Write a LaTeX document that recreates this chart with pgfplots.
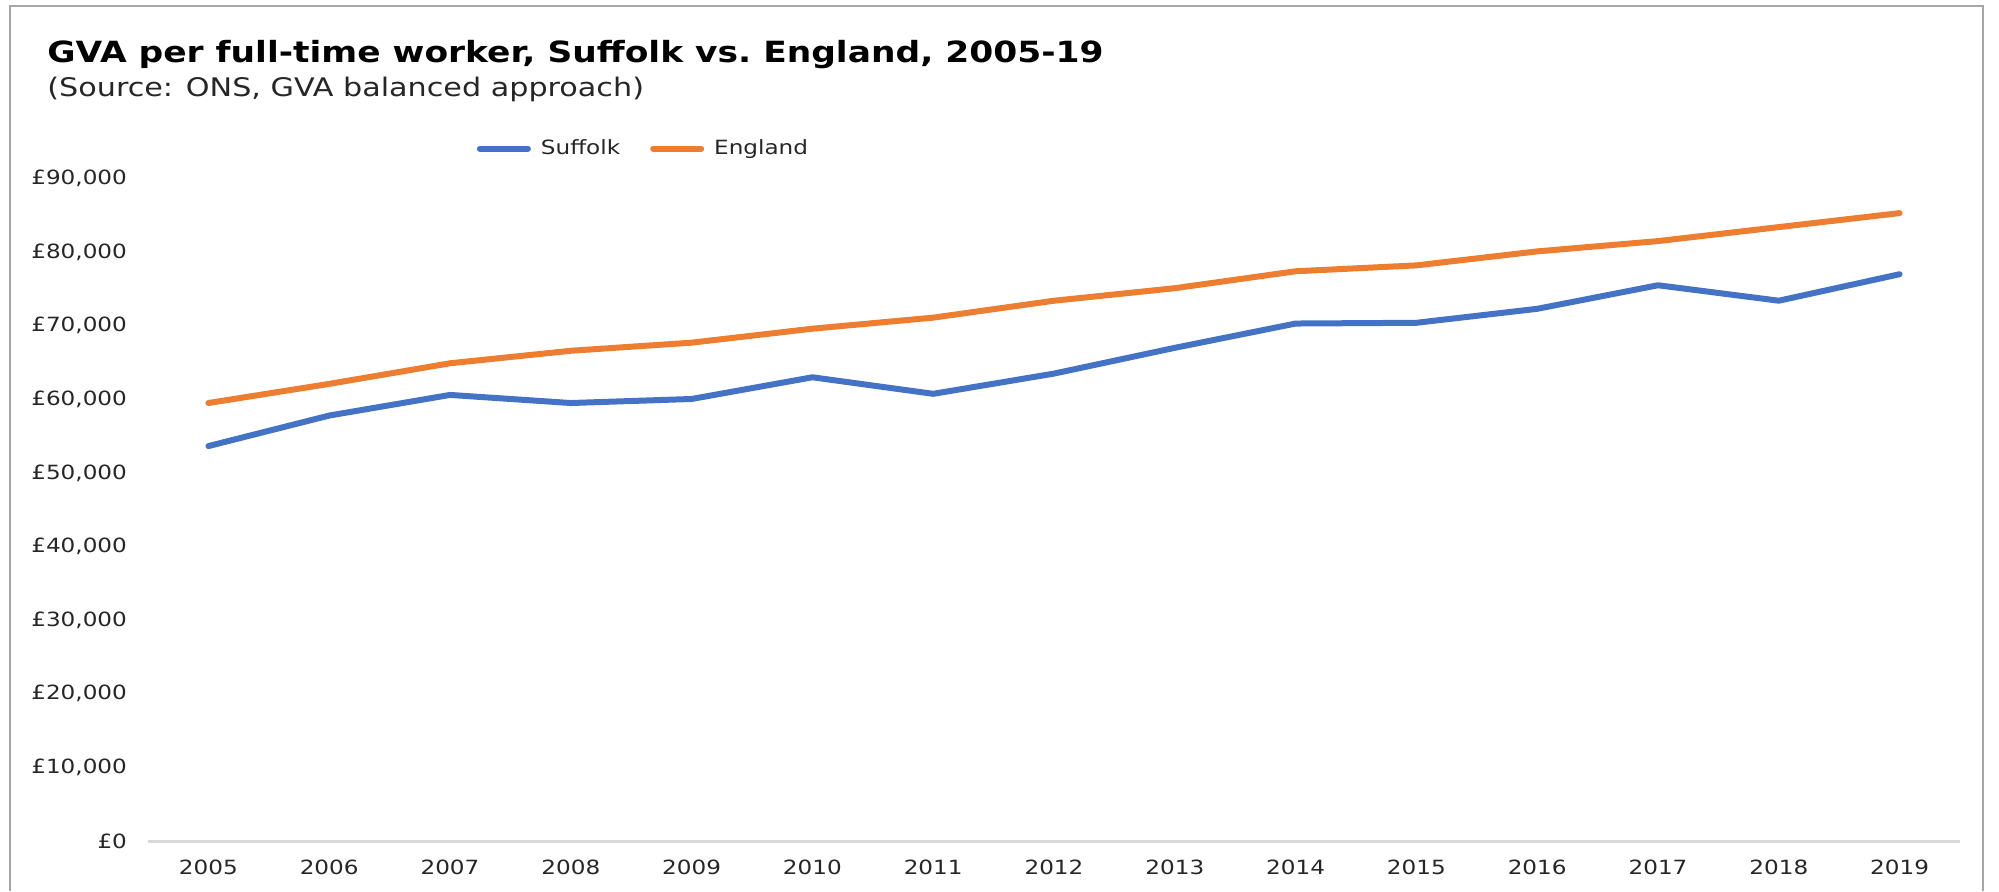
\documentclass[border=0pt]{standalone}
\usepackage{pgfplots}
\pgfplotsset{compat=1.18}
\usepackage{fontspec}
\setmainfont[FakeStretch=1.18]{DejaVu Sans}
\definecolor{suffolk}{HTML}{4472C4}
\definecolor{england}{HTML}{ED7D31}
\definecolor{axgray}{HTML}{D9D9D9}
\definecolor{framegray}{HTML}{A6A6A6}
\definecolor{txt}{HTML}{262626}
\pgfplotstableread{
x year suffolk england
0 2005 53650 59500
1 2006 57800 62100
2 2007 60600 64900
3 2008 59500 66600
4 2009 60050 67700
5 2010 63000 69600
6 2011 60750 71100
7 2012 63500 73400
8 2013 67000 75100
9 2014 70300 77400
10 2015 70400 78200
11 2016 72300 80100
12 2017 75500 81500
13 2018 73400 83400
14 2019 77000 85300
}\datatable
\begin{document}
\begin{tikzpicture}
\useasboundingbox (0,0) rectangle (999.5pt,445.5pt);
\draw[framegray, line width=1pt] (5pt,0) -- (5pt,442.5pt) -- (991.5pt,442.5pt) -- (991.5pt,0);
\node[anchor=base west, inner sep=0pt, font=\fontsize{14.6}{18}\selectfont\bfseries, text=black] at (23.5pt,414pt) {GVA per full-time worker, Suffolk vs.\ England, 2005-19};
\node[anchor=base west, inner sep=0pt, font=\fontsize{12.8}{15}\selectfont, text=txt] at (23.5pt,397pt) {(Source: ONS, GVA balanced approach)};
\begin{axis}[
  at={(74pt,25pt)}, anchor=south west,
  scale only axis, width=906pt, height=331.25pt,
  xmin=-0.5, xmax=14.5, ymin=0, ymax=90000,
  scaled y ticks=false,
  axis x line*=bottom, axis y line*=left,
  x axis line style={draw=axgray, line width=1.5pt, -},
  y axis line style={draw=none},
  major tick length=0pt,
  xtick={0,...,14},
  xticklabels={2005,2006,2007,2008,2009,2010,2011,2012,2013,2014,2015,2016,2017,2018,2019},
  ytick={0,10000,...,90000},
  yticklabels={£0,{£10,000},{£20,000},{£30,000},{£40,000},{£50,000},{£60,000},{£70,000},{£80,000},{£90,000}},
  tick label style={font=\fontsize{9.8}{12}\selectfont, text=txt},
  yticklabel style={xshift=-7pt},
  xticklabel style={yshift=-6pt},
  clip=false,
  legend columns=2,
  legend style={draw=none, fill=none, at={(0.274,1)}, anchor=center, yshift=15pt,
    font=\fontsize{9.8}{12}\selectfont, text=txt,
    /tikz/every even column/.append style={column sep=13pt},
    /tikz/every odd column/.append style={column sep=3pt}},
  legend image code/.code={\draw[#1, line width=3pt, line cap=round] (0pt,0pt) -- (24pt,0pt);},
]
\addplot[suffolk, line width=3pt, line cap=round, line join=round] table[x=x, y=suffolk] {\datatable};
\addlegendentry{Suffolk}
\addplot[england, line width=3pt, line cap=round, line join=round] table[x=x, y=england] {\datatable};
\addlegendentry{England}
\end{axis}
\end{tikzpicture}
\end{document}
